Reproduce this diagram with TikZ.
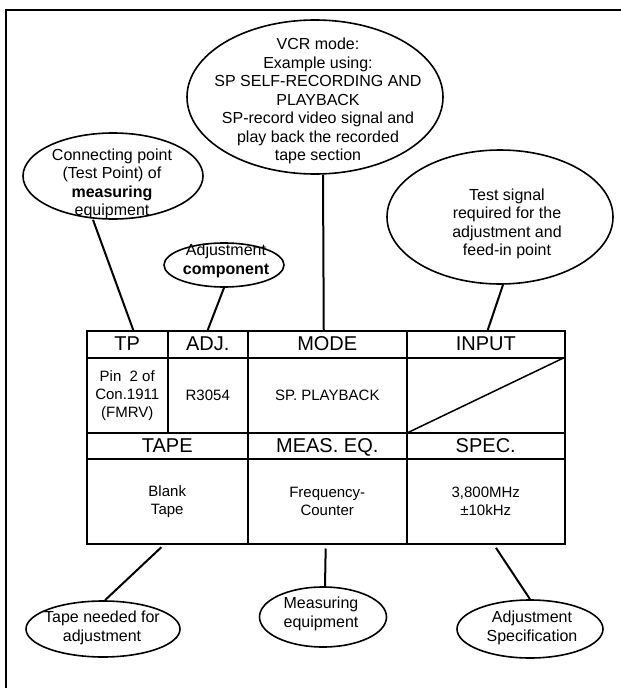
\documentclass[tikz,border=0pt]{standalone}
\usepackage{fontspec}
\setmainfont{Liberation Sans}
\usetikzlibrary{shapes.geometric}

\begin{document}
\begin{tikzpicture}[x=1pt,y=-1pt,
  bubble/.style={draw,ellipse,line width=1.6pt,inner sep=0pt},
  bubtext/.style={align=center,inner sep=0pt,font=\fontsize{16}{18.5}\selectfont},
  head/.style={draw,line width=1.5pt,inner sep=0pt,anchor=north west,text height=14.5pt,text depth=1.5pt,font=\fontsize{20}{22}\selectfont},
  body/.style={draw,line width=1.5pt,inner sep=0pt,anchor=north west,align=center,font=\fontsize{15}{18}\selectfont},
  lead/.style={line width=2pt}]
  \useasboundingbox (0,0) rectangle (621,688);
  \draw[line width=2.5pt] (6,688) -- (6,10) -- (621,10);

  % upper half of the table
  \node[head,minimum width=81pt,minimum height=27pt] (tp) at (86,330) {TP};
  \node[head,minimum width=80pt,minimum height=27pt] (adj) at (167,330) {ADJ.};
  \node[head,minimum width=159pt,minimum height=27pt] (mode) at (247,330) {MODE};
  \node[head,minimum width=158pt,minimum height=27pt] (inp) at (406,330) {INPUT};
  \node[body,minimum width=81pt,minimum height=75pt] (tpbody) at (86,357) {Pin\ \ 2 of\\Con.1911\\(FMRV)};
  \node[body,minimum width=80pt,minimum height=75pt] (adjbody) at (167,357) {R3054};
  \node[body,minimum width=159pt,minimum height=75pt] (modebody) at (247,357) {SP. PLAYBACK};
  \node[body,minimum width=158pt,minimum height=75pt] (inpbody) at (406,357) {};
  \draw[line width=1.5pt] (inpbody.south west) -- (inpbody.north east);

  % lower half of the table
  \node[head,minimum width=161pt,minimum height=26pt] (tape) at (86,432) {TAPE};
  \node[head,minimum width=159pt,minimum height=26pt] (meas) at (247,432) {MEAS. EQ.};
  \node[head,minimum width=158pt,minimum height=26pt] (spec) at (406,432) {SPEC.};
  \node[body,minimum width=161pt,minimum height=85pt] (tapebody) at (86,458) {Blank\\Tape};
  \node[body,minimum width=159pt,minimum height=85pt] (measbody) at (247,458) {Frequency-\\Counter};
  \node[body,minimum width=158pt,minimum height=85pt] (specbody) at (406,458) {3,800MHz\\±10kHz};

  % callouts above
  \node[bubble,minimum width=180pt,minimum height=86pt] (conn) at (113,176) {};
  \node[bubtext] (conntxt) at (112,184) {Connecting point\\(Test Point) of\\\textbf{measuring}\\equipment};
  \node[bubble,minimum width=120pt,minimum height=44pt] (adjc) at (224,265) {};
  \node[bubtext] (adjctxt) at (226,261) {Adjustment\\\textbf{component}};
  \node[bubble,minimum width=256pt,minimum height=154pt] (vcr) at (315,97) {};
  \node[bubtext] (vcrtxt) at (318,101) {VCR mode:\\Example using:\\SP SELF-RECORDING AND\\PLAYBACK\\SP-record video signal and\\play back the recorded\\tape section};
  \node[bubble,minimum width=226pt,minimum height=134pt] (test) at (500,217) {};
  \node[bubtext] (testtxt) at (507,224) {Test signal\\required for the\\adjustment and\\feed-in point};

  % callouts below
  \node[bubble,minimum width=154pt,minimum height=56pt] (tapec) at (103,629) {};
  \node[bubtext] (tapetxt) at (102,628) {Tape needed for\\adjustment};
  \node[bubble,minimum width=127pt,minimum height=60pt] (measc) at (323,617) {};
  \node[bubtext] (meastxt) at (321,614) {Measuring\\equipment};
  \node[bubble,minimum width=146pt,minimum height=58pt] (specc) at (530,629) {};
  \node[bubtext] (spectxt) at (532,628) {Adjustment\\Specification};

  \draw[lead] ([xshift=-20pt]conn.south) -- ([xshift=6pt]tp.north);
  \draw[lead] (adjc.south) -- (adj.north);
  \draw[lead] ([xshift=8pt]vcr.south) -- ([xshift=-3.5pt]mode.north);
  \draw[lead] ([xshift=3pt]test.south) -- ([xshift=2pt]inp.north);
  \draw[lead,shorten <=4pt] ([xshift=-3pt]tapebody.south) -- ([xshift=2pt]tapec.north);
  \draw[lead,shorten <=4pt] ([xshift=-1.5pt]measbody.south) -- ([xshift=2pt]measc.north);
  \draw[lead,shorten <=4pt] ([xshift=8pt]specbody.south) -- (specc.north);
\end{tikzpicture}
\end{document}
